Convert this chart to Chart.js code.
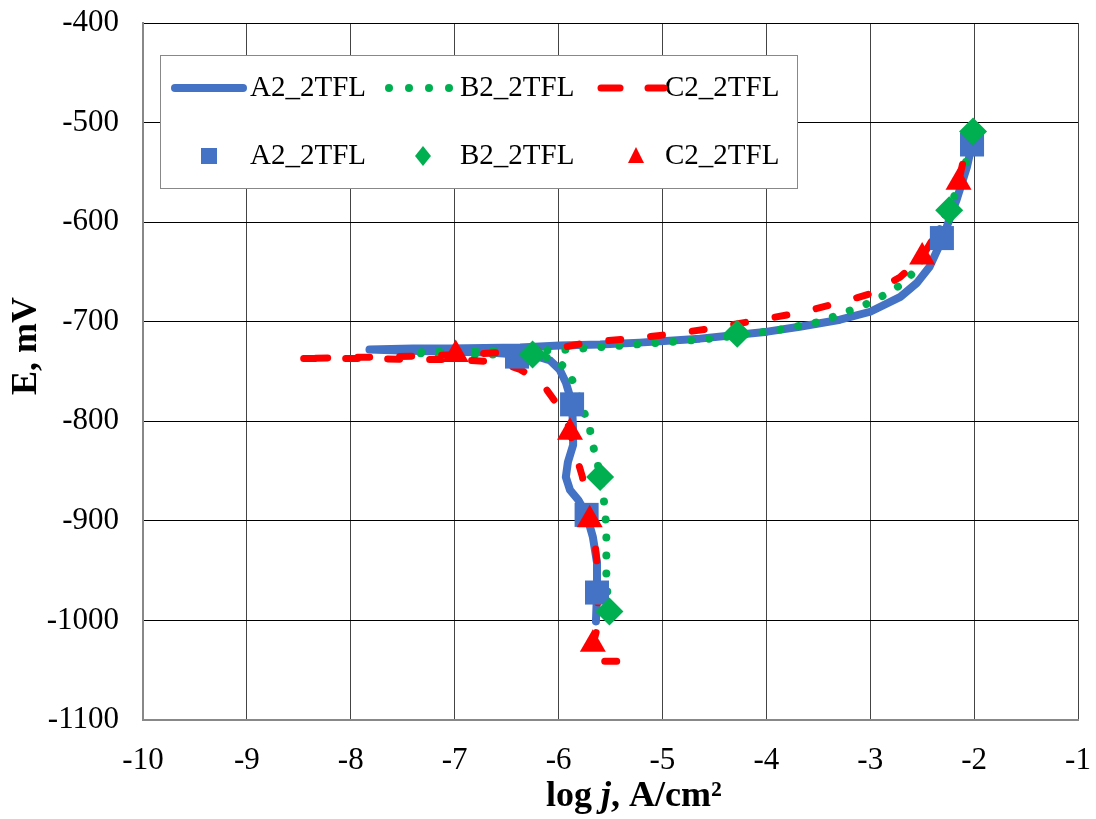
<!DOCTYPE html>
<html>
<head>
<meta charset="utf-8">
<script src="https://cdn.jsdelivr.net/npm/chart.js@4/dist/chart.umd.min.js"></script>
<style>
  html, body { margin: 0; padding: 0; background: #fff; }
</style>
</head>
<body>
<canvas id="chart-tafel" width="1096" height="819"></canvas>
<script>
//=================================================================
// DATA
//=================================================================
const seriesNames = ['A2_2TFL', 'B2_2TFL', 'C2_2TFL'];
const xTicks = [-10, -9, -8, -7, -6, -5, -4, -3, -2, -1];
const yTicks = [-1100, -1000, -900, -800, -700, -600, -500, -400];

// A2 curve (log j, E)
const aLogJ = [-5.64, -5.63, -5.63, -5.67, -5.73, -5.81, -5.89, -5.93, -5.91, -5.86, -5.86, -5.87, -5.89, -5.93, -5.99, -6.08, -6.23, -6.40, -6.66, -7.14, -7.53, -7.82,
  -7.40, -7.05, -6.37, -5.99, -5.60, -5.22, -4.64, -3.99, -3.68, -3.29, -3.00, -2.71, -2.55, -2.43, -2.31, -2.17, -2.07, -2.02];
const aE = [-1001, -972, -942, -916, -894, -879, -869, -856, -841, -824, -809, -784, -775, -761, -748, -739, -734, -733, -731, -730, -729, -728,
  -727, -727, -726, -724, -723, -721, -717, -710, -705, -698, -690, -675, -661, -645, -618, -578, -545, -522];

// B2 curve
const bLogJ = [-5.52, -5.54, -5.54, -5.54, -5.55, -5.57, -5.60, -5.63, -5.67, -5.70, -5.75, -5.81, -5.87, -5.94, -6.03, -6.18, -6.37, -6.76, -7.11, -7.41,
  -7.14, -6.56, -6.20, -5.92, -5.53, -5.15, -4.64, -4.28, -3.87, -3.48, -3.15, -2.98, -2.83, -2.69, -2.59, -2.41, -2.24, -2.09, -2.01];
const bE = [-989, -956, -929, -911, -892, -874, -856, -839, -824, -807, -792, -773, -758, -746, -738, -734, -733, -733, -733, -731,
  -730, -729, -729, -728, -725, -722, -718, -714, -708, -700, -687, -680, -671, -662, -651, -625, -588, -545, -509];

// C2 curve
const cLogJ = [-5.44, -5.68, -5.67, -5.63, -5.62, -5.62, -5.63, -5.65, -5.70, -5.73, -5.77, -5.81, -5.85, -5.89, -5.92, -6.02, -6.13, -6.21, -6.37, -6.50, -6.66, -6.97, -7.40, -7.79, -8.10, -8.54,
  -7.53, -6.95, -6.56, -6.18, -5.92, -5.73, -5.31, -4.96, -4.54, -4.11, -3.68, -3.26, -2.97, -2.71, -2.50, -2.33, -2.15, -2.11];
const cE = [-1041, -1041, -1024, -1009, -979, -959, -942, -922, -899, -882, -856, -842, -827, -811, -799, -782, -766, -758, -748, -743, -740, -738, -738, -737, -737, -737,
  -735, -733, -731, -729, -725, -721, -717, -713, -707, -699, -691, -680, -671, -655, -635, -605, -560, -541];

// markers
const aMarkLogJ = [-6.40, -5.87, -5.73, -5.63, -2.31, -2.02];
const aMarkE = [-735, -783, -894, -972, -616, -522];
const bMarkLogJ = [-6.25, -5.60, -5.51, -4.28, -2.24, -2.01];
const bMarkE = [-733, -856, -991, -712, -588, -509];
const cMarkLogJ = [-6.99, -5.89, -5.70, -5.67, -2.50, -2.15];
const cMarkE = [-733, -811, -899, -1024, -635, -560];

const BLUE = '#4472C4';
const GREEN = '#00B050';
const RED = '#FF0000';
const SERIF = '"Liberation Serif", serif';

const pts = (xs, ys) => xs.map((x, i) => ({ x: x, y: ys[i] }));

//=================================================================
// CUSTOM LEGEND + AXIS TITLES
//=================================================================
const extras = {
  id: 'extras',
  afterDraw(chart) {
    const ctx = chart.ctx;
    ctx.save();

    // legend box
    ctx.fillStyle = '#fff';
    ctx.fillRect(160, 55, 637, 133);
    ctx.strokeStyle = '#888';
    ctx.lineWidth = 1;
    ctx.strokeRect(160.5, 55.5, 637, 133);

    ctx.font = '29px ' + SERIF;
    ctx.fillStyle = '#000';
    ctx.textBaseline = 'middle';
    ctx.textAlign = 'left';
    const r1 = 88, r2 = 156;
    const textX = [250, 460, 665];
    seriesNames.forEach((n, i) => {
      ctx.fillText(n, textX[i], r1);
      ctx.fillText(n, textX[i], r2);
    });

    ctx.lineCap = 'round';
    // blue solid
    ctx.strokeStyle = BLUE; ctx.lineWidth = 8;
    ctx.beginPath(); ctx.moveTo(175, r1); ctx.lineTo(243, r1); ctx.stroke();
    // green dots
    ctx.fillStyle = GREEN;
    [389, 409, 429, 449].forEach(x => { ctx.beginPath(); ctx.arc(x, r1, 4, 0, Math.PI * 2); ctx.fill(); });
    // red dashes
    ctx.strokeStyle = RED; ctx.lineWidth = 7;
    ctx.beginPath(); ctx.moveTo(601, r1); ctx.lineTo(620, r1); ctx.stroke();
    ctx.beginPath(); ctx.moveTo(648, r1); ctx.lineTo(664, r1); ctx.stroke();

    // marker row
    ctx.fillStyle = BLUE;
    ctx.fillRect(201, r2 - 8, 16, 16);
    ctx.fillStyle = GREEN;
    ctx.beginPath(); ctx.moveTo(423, r2 - 10); ctx.lineTo(431, r2); ctx.lineTo(423, r2 + 10); ctx.lineTo(415, r2); ctx.closePath(); ctx.fill();
    ctx.fillStyle = RED;
    ctx.beginPath(); ctx.moveTo(636, r2 - 9); ctx.lineTo(644, r2 + 7); ctx.lineTo(628, r2 + 7); ctx.closePath(); ctx.fill();

    // y title
    ctx.fillStyle = '#000';
    ctx.font = 'bold 36px ' + SERIF;
    ctx.translate(27, 346);
    ctx.rotate(-Math.PI / 2);
    ctx.textAlign = 'center';
    ctx.fillText('E, mV', 0, 0);
    ctx.setTransform(1, 0, 0, 1, 0, 0);

    // x title: log j, A/cm²  (j in italic)
    const parts = [
      ['log ', 'bold 36px ' + SERIF],
      ['j', 'italic bold 36px ' + SERIF],
      [', A/cm²', 'bold 36px ' + SERIF]
    ];
    let total = 0;
    parts.forEach(p => { ctx.font = p[1]; total += ctx.measureText(p[0]).width; });
    let x = 634 - total / 2;
    ctx.textAlign = 'left';
    parts.forEach(p => { ctx.font = p[1]; ctx.fillText(p[0], x, 797); x += ctx.measureText(p[0]).width; });

    ctx.restore();
  }
};

//=================================================================
// CHART
//=================================================================
const chartTafel = document.getElementById('chart-tafel');

const lineSet = (label, data, color, width, dash, order) => ({
  label: label, data: data, showLine: true, borderColor: color, backgroundColor: color,
  borderWidth: width, borderDash: dash, borderCapStyle: 'round', borderJoinStyle: 'round',
  pointRadius: 0, tension: 0, order: order
});
const markSet = (label, data, color, style, radius, order) => ({
  label: label, data: data, showLine: false, pointStyle: style, pointRadius: radius,
  backgroundColor: color, borderColor: color, borderWidth: 0, order: order
});

new Chart(chartTafel, {
  type: 'scatter',
  data: {
    datasets: [
      lineSet(seriesNames[0], pts(aLogJ, aE), BLUE, 8, [], 6),
      lineSet(seriesNames[1], pts(bLogJ, bE), GREEN, 8, [0.01, 18], 5),
      lineSet(seriesNames[2], pts(cLogJ, cE), RED, 7, [12, 30], 4),
      markSet(seriesNames[0], pts(aMarkLogJ, aMarkE), BLUE, 'rect', 17, 3),
      markSet(seriesNames[1], pts(bMarkLogJ, bMarkE), GREEN, 'rectRot', 14, 2),
      markSet(seriesNames[2], pts(cMarkLogJ, cMarkE), RED, 'triangle', 15, 1)
    ]
  },
  options: {
    responsive: false,
    animation: false,
    devicePixelRatio: 1,
    layout: { padding: { top: 23, right: 18, left: 0, bottom: 0 } },
    plugins: { legend: { display: false }, tooltip: { enabled: false } },
    scales: {
      x: {
        type: 'linear', min: xTicks[0], max: xTicks[xTicks.length - 1],
        afterBuildTicks: s => { s.ticks = xTicks.map(v => ({ value: v })); },
        afterFit: s => { s.height = 99; s.paddingLeft = 0; s.paddingRight = 0; },
        ticks: { color: '#000', font: { family: SERIF, size: 31 }, padding: 22, maxRotation: 0, callback: v => String(v) },
        grid: { color: '#444', drawTicks: false },
        border: { color: '#888', width: 2 }
      },
      y: {
        type: 'linear', min: yTicks[0], max: yTicks[yTicks.length - 1],
        afterBuildTicks: s => { s.ticks = yTicks.map(v => ({ value: v })); },
        afterFit: s => { s.width = 143; s.paddingTop = 0; s.paddingBottom = 0; },
        ticks: { color: '#000', font: { family: SERIF, size: 31 }, padding: 24, callback: v => String(v) },
        grid: { color: '#000', drawTicks: false },
        border: { color: '#888', width: 2 }
      }
    }
  },
  plugins: [extras]
});
</script>
</body>
</html>
